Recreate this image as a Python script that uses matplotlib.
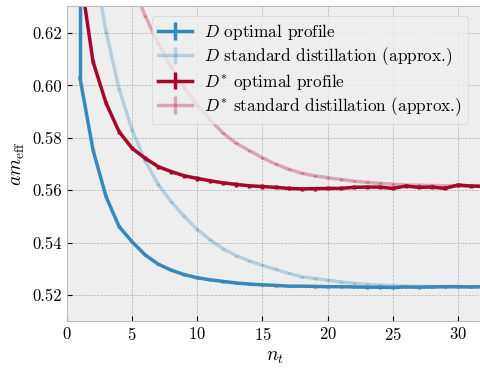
import numpy as np
import matplotlib
matplotlib.use("Agg")
import matplotlib.pyplot as plt

# ---------------------------------------------------------------------------
# Data
# ---------------------------------------------------------------------------

n_t = np.arange(1, 33)

D_opt = [0.6028, 0.5753, 0.5575, 0.5461, 0.5403, 0.5353, 0.5318, 0.5295,
         0.5278, 0.5266, 0.5258, 0.5252, 0.5246, 0.5242, 0.5239, 0.5237,
         0.5234, 0.5234, 0.5233, 0.5232, 0.5232, 0.5231, 0.5230, 0.5230,
         0.5229, 0.5231, 0.5230, 0.5231, 0.5232, 0.5232, 0.5231, 0.5232]
D_opt_err_lo = [0.0005] * 32
D_opt_err_hi = [0.06] + [0.0005] * 31

D_std = [0.750, 0.648, 0.6205, 0.5985, 0.5830, 0.5712, 0.5622, 0.5556,
         0.5500, 0.5450, 0.5410, 0.5376, 0.5350, 0.5330, 0.5313, 0.5298,
         0.5283, 0.5270, 0.5263, 0.5257, 0.5250, 0.5245, 0.5241, 0.5238,
         0.5236, 0.5234, 0.5233, 0.5232, 0.5231, 0.5231, 0.5231, 0.5231]
D_std_err = [0.0004] * 32

Ds_opt = [0.643, 0.609, 0.5932, 0.5823, 0.5760, 0.5722, 0.5690, 0.5671,
          0.5655, 0.5645, 0.5636, 0.5628, 0.5622, 0.5617, 0.5614, 0.5611,
          0.5607, 0.5605, 0.5606, 0.5607, 0.5607, 0.5611, 0.5612, 0.5612,
          0.5607, 0.5616, 0.5611, 0.5612, 0.5607, 0.5620, 0.5616, 0.5615]
Ds_opt_err = [0.0008] * 32

Ds_std = [0.780, 0.710, 0.675, 0.653, 0.639, 0.6265, 0.6160, 0.6070,
          0.5992, 0.5925, 0.5868, 0.5817, 0.5779, 0.5751, 0.5724, 0.5700,
          0.5680, 0.5665, 0.5655, 0.5648, 0.5641, 0.5635, 0.5630, 0.5626,
          0.5623, 0.5620, 0.5619, 0.5618, 0.5617, 0.5617, 0.5616, 0.5616]
Ds_std_err = [0.0004] * 32

BLUE = "#348ABD"
RED = "#A60628"

# ---------------------------------------------------------------------------
# Plot
# ---------------------------------------------------------------------------

plt.style.use("bmh")
plt.rcParams["font.family"] = "serif"
plt.rcParams["font.serif"] = ["cmr10", "DejaVu Serif"]
plt.rcParams["mathtext.fontset"] = "cm"
plt.rcParams["axes.formatter.use_mathtext"] = True
plt.rcParams["axes.unicode_minus"] = False

fig = plt.figure(figsize=(4.8, 3.68), dpi=100)
ax = fig.add_axes([67 / 480, 47 / 368, 417 / 480, 315 / 368])

lw = 2.5
ax.errorbar(n_t, D_opt, yerr=[D_opt_err_lo, D_opt_err_hi], color=BLUE, lw=lw,
            elinewidth=lw, label=r"$D$ optimal profile")
ax.errorbar(n_t, D_std, yerr=D_std_err, color=BLUE, lw=lw, elinewidth=lw,
            alpha=0.3, label=r"$D$ standard distillation (approx.)")
ax.errorbar(n_t, Ds_opt, yerr=Ds_opt_err, color=RED, lw=lw, elinewidth=lw,
            label=r"$D^{*}$ optimal profile")
ax.errorbar(n_t, Ds_std, yerr=Ds_std_err, color=RED, lw=lw, elinewidth=lw,
            alpha=0.3, label=r"$D^{*}$ standard distillation (approx.)")

ax.set_xlim(0, 32)
ax.set_ylim(0.5101, 0.6303)
ax.set_xticks([0, 5, 10, 15, 20, 25, 30])
ax.set_yticks([0.52, 0.54, 0.56, 0.58, 0.60, 0.62])
ax.set_yticklabels(["0.52", "0.54", "0.56", "0.58", "0.60", "0.62"])
ax.tick_params(labelsize=12)

ax.set_xlabel(r"$n_t$", fontsize=14)
ax.set_ylabel(r"$am_{\mathrm{eff}}$", fontsize=14)

ax.legend(loc="upper right", bbox_to_anchor=(0.9616, 0.968),
          borderaxespad=0, fontsize=12.4, labelspacing=0.2,
          borderpad=0.35, handletextpad=0.7)

fig.savefig("out.png", dpi=100)
